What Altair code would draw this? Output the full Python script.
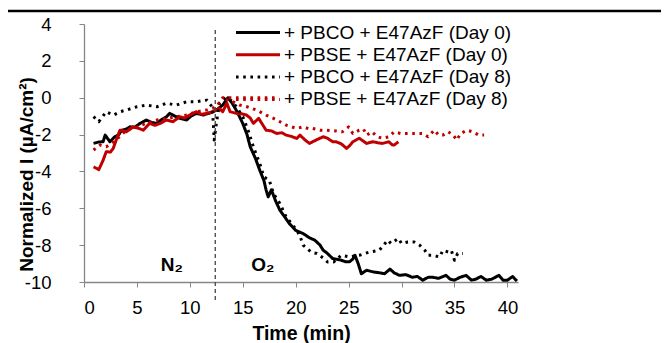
import altair as alt
import pandas as pd

series_names = ["+ PBCO + E47AzF (Day 0)", "+ PBSE + E47AzF (Day 0)",
                "+ PBCO + E47AzF (Day 8)", "+ PBSE + E47AzF (Day 8)"]
series_colors = ["#000000", "#C00000", "#000000", "#C00000"]
series_dashes = [[1, 0], [1, 0], [2.6, 4.6], [2.6, 4.6]]

x_ticks = [0, 5, 10, 15, 20, 25, 30, 35, 40]
y_ticks = [-10, -8, -6, -4, -2, 0, 2, 4]

gas_labels = ["N\u2082", "O\u2082"]
gas_label_t = [8.3, 16.9]
gas_label_v = [-9.1, -9.1]
switch_time = [12.4]

pbco_day0 = [(0.9, -2.48), (1.4, -2.4), (1.8, -2.39), (2.0, -2.03), (2.45, -2.39), (2.9, -2.12),
             (3.3, -2.0), (3.56, -1.76), (4.0, -1.7), (4.34, -1.58), (4.8, -1.6), (5.3, -1.39),
             (5.9, -1.21), (6.4, -1.35), (6.86, -1.39), (7.3, -1.2), (7.8, -1.03), (8.1, -0.85),
             (8.6, -1.0), (9.06, -1.12), (9.7, -1.21), (10.1, -1.0), (10.6, -0.85), (11.25, -0.94),
             (11.9, -0.83), (12.5, -0.67), (13.1, -0.4), (13.6, 0.0), (14.0, -0.3), (14.5, -0.8),
             (15.0, -1.4), (15.4, -2.0), (15.7, -2.66), (16.2, -3.3), (16.6, -3.93), (17.0, -4.5),
             (17.2, -5.0), (17.4, -5.38), (17.7, -5.0), (18.1, -5.6), (18.5, -6.1), (19.0, -6.5),
             (19.4, -6.83), (20.0, -7.2), (20.4, -7.3), (20.7, -7.37), (21.3, -7.6), (21.8, -7.73),
             (22.3, -8.0), (22.6, -8.28), (22.9, -8.4), (23.5, -8.73), (24.2, -8.8), (24.7, -8.9),
             (25.1, -8.9), (25.4, -8.75), (25.6, -8.55), (25.9, -9.0), (26.2, -9.55), (26.7, -9.36),
             (27.3, -9.45), (27.9, -9.5), (28.4, -9.55), (28.9, -9.3), (29.3, -9.5), (29.8, -9.64),
             (30.4, -9.6), (31.0, -9.74), (31.5, -9.7), (32.0, -9.9), (32.5, -9.75), (32.9, -9.74),
             (33.5, -9.8), (34.2, -9.64), (34.6, -9.85), (35.0, -9.9), (35.5, -9.75), (36.1, -9.64),
             (36.6, -9.9), (37.0, -9.85), (37.5, -9.7), (38.0, -9.9), (38.5, -9.85), (39.2, -9.64),
             (39.6, -9.9), (40.0, -9.9), (40.5, -9.7), (40.9, -9.95)]

pbse_day0 = [(0.9, -3.75), (1.4, -3.9), (1.8, -3.4), (2.1, -2.93), (2.5, -2.95), (2.76, -2.75),
             (3.1, -2.2), (3.4, -1.76), (4.0, -1.85), (4.65, -1.58), (5.1, -1.65), (5.6, -1.76),
             (6.2, -1.39), (6.7, -1.5), (7.2, -1.39), (7.8, -1.21), (8.4, -1.3), (9.06, -1.03),
             (9.5, -1.1), (10.0, -0.94), (10.6, -0.76), (11.1, -0.9), (11.6, -0.85), (12.2, -0.76),
             (12.8, -0.58), (13.1, -0.76), (13.5, -0.3), (13.8, -0.76), (14.4, -0.85), (14.7, -0.85),
             (15.35, -0.94), (15.7, -1.1), (16.0, -1.39), (16.5, -1.12), (17.2, -1.76), (17.7, -1.8),
             (18.2, -1.94), (18.7, -1.9), (19.1, -2.03), (19.6, -2.1), (20.1, -2.21), (20.4, -2.03),
             (20.9, -2.3), (21.3, -2.48), (21.6, -2.39), (22.1, -2.25), (22.6, -2.12), (23.0, -2.2),
             (23.5, -2.39), (23.8, -2.39), (24.3, -2.5), (24.8, -2.75), (25.1, -2.6), (25.4, -2.39),
             (26.0, -2.2), (26.7, -2.48), (27.3, -2.39), (27.8, -2.45), (28.2, -2.48), (28.8, -2.39),
             (29.1, -2.55), (29.3, -2.57), (29.7, -2.39)]

pbco_day8 = [(0.9, -1.03), (1.4, -1.3), (2.1, -0.76), (2.8, -0.94), (3.4, -0.76), (4.0, -0.67),
             (5.0, -0.49), (5.9, -0.4), (6.9, -0.49), (7.8, -0.3), (8.7, -0.4), (9.7, -0.22),
             (10.6, -0.22), (11.6, -0.13), (12.1, -0.49), (12.2, -1.21), (12.3, -2.3), (12.5, -1.4),
             (12.8, -0.3), (13.4, 0.0), (14.0, -0.2), (14.4, -0.49), (15.0, -1.03), (15.5, -1.76),
             (16.0, -2.66), (16.6, -3.57), (17.0, -4.3), (17.5, -4.47), (17.9, -5.2), (18.5, -5.74),
             (19.1, -6.47), (20.1, -7.19), (20.4, -7.5), (20.7, -8.0), (21.5, -8.4), (22.0, -8.45),
             (22.6, -8.7), (23.0, -8.91), (23.6, -8.91), (24.3, -8.55), (25.1, -8.64), (26.0, -8.55),
             (27.0, -8.37), (27.9, -8.28), (28.3, -8.0), (28.7, -7.73), (29.0, -7.91), (29.7, -7.64),
             (30.0, -7.91), (30.6, -7.83), (31.2, -7.83), (31.7, -8.0), (32.2, -8.28), (32.5, -8.55),
             (32.9, -8.55), (33.6, -8.64), (33.9, -8.28), (34.4, -8.37), (34.7, -8.28), (34.9, -8.64),
             (35.0, -8.82), (35.3, -8.45), (35.8, -8.45)]

pbse_day8_a = [(0.9, -2.84), (1.5, -2.57), (2.1, -2.66), (2.8, -2.39), (3.4, -2.1), (4.0, -1.76),
               (5.0, -1.58), (5.9, -1.39), (6.9, -1.21), (7.8, -1.12), (8.7, -1.03), (9.7, -0.94),
               (10.6, -0.76), (11.6, -0.67), (12.5, -0.49), (13.1, 0.0), (18.3, 0.0)]
pbse_day8_b = [(13.4, -0.1), (14.0, -0.2), (14.7, -0.4), (15.4, -0.49), (16.3, -0.67), (17.2, -0.94),
               (17.9, -1.12), (18.5, -1.3), (19.1, -1.49), (20.1, -1.67), (20.7, -1.58), (21.3, -1.7),
               (21.6, -1.67), (22.3, -1.76), (22.9, -1.76), (23.8, -1.8), (24.4, -1.85), (25.0, -1.58),
               (25.4, -1.94), (26.0, -1.76), (26.4, -1.7), (26.7, -2.03), (27.2, -1.85), (27.7, -2.12),
               (28.2, -2.2), (28.8, -2.12), (29.3, -1.85), (29.9, -1.94), (30.4, -1.94), (31.2, -1.94),
               (32.0, -1.94), (32.5, -2.12), (33.1, -1.76), (33.5, -2.03), (33.9, -2.03), (34.4, -1.85),
               (34.9, -2.03), (35.2, -2.3), (35.6, -1.94), (36.2, -1.76), (36.7, -1.85), (37.3, -2.03),
               (37.8, -2.03)]

groups = [(series_names[0], [pbco_day0]), (series_names[1], [pbse_day0]),
          (series_names[2], [pbco_day8]), (series_names[3], [pbse_day8_a, pbse_day8_b])]
rows = []
for name, segs in groups:
    for s, seg in enumerate(segs):
        for i, (t, v) in enumerate(seg):
            rows.append({"series": name, "seg": f"{name}|{s}", "i": i, "t": t, "v": v})
df = pd.DataFrame(rows)

FONT = "Liberation Sans"

# long horizontal stroke drawn with a small nominal symbol size so rows stay tight
legend = alt.Legend(title=None, orient="none", legendX=164.5, legendY=-1,
                    symbolType="M-4,0L4,0", symbolSize=121, symbolStrokeWidth=3,
                    labelFontSize=19, labelFont=FONT, labelColor="black",
                    rowPadding=2.3, labelOffset=16.5, padding=0, labelLimit=400)

x_axis = alt.Axis(values=x_ticks, title="Time (min)", titleY=42, titleBaseline="top",
                  titleFontSize=19.5, labelPadding=11, labelOverlap=False)
y_axis = alt.Axis(values=y_ticks, title="Normalized I (\u00b5A/cm\u00b2)", labelPadding=28,
                  labelOverlap=False, labelExpr="datum.value + ''",
                  titleX=-58, titleY=150, titleBaseline="middle", titleFontSize=19)
x_scale = alt.Scale(domain=[0, 41], nice=False, zero=False)
y_scale = alt.Scale(domain=[-10, 4], nice=False)

lines = alt.Chart(df).mark_line(strokeWidth=3, strokeJoin="round").encode(
    x=alt.X("t:Q", scale=x_scale, axis=x_axis),
    y=alt.Y("v:Q", scale=y_scale, axis=y_axis),
    color=alt.Color("series:N", scale=alt.Scale(domain=series_names, range=series_colors),
                    legend=legend),
    strokeDash=alt.StrokeDash("series:N", scale=alt.Scale(domain=series_names, range=series_dashes),
                              legend=legend),
    detail="seg:N",
    order="i:Q",
)

switch = alt.Chart(pd.DataFrame({"t": switch_time})).mark_rule(
    color="#444444", strokeDash=[4, 3], strokeWidth=1.3).encode(
    x=alt.X("t:Q", scale=x_scale, axis=x_axis), y=alt.value(6), y2=alt.value(276))

gas = alt.Chart(pd.DataFrame({"label": gas_labels, "t": gas_label_t, "v": gas_label_v})).mark_text(
    font=FONT, fontSize=19, fontWeight="bold", color="black").encode(
    x=alt.X("t:Q", scale=x_scale, axis=x_axis),
    y=alt.Y("v:Q", scale=y_scale, axis=y_axis), text="label:N")

top_rule = alt.Chart(pd.DataFrame({"a": [0]})).mark_rule(color="black", strokeWidth=2.5).encode(
    x=alt.value(-80), x2=alt.value(600), y=alt.value(-13))

chart = alt.layer(lines, switch, gas, top_rule).properties(
    width=434, height=258,
    autosize=alt.AutoSizeParams(type="none"),
    padding={"left": 76, "top": 16, "right": 143, "bottom": 66},
).configure_view(stroke=None).configure_axis(
    grid=False, domainColor="#868686", tickColor="#868686", tickSize=5, domainWidth=1.3,
    labelFont=FONT, labelFontSize=18.5, labelColor="black", labelOverlap=False,
    titleFont=FONT, titleFontSize=19.5, titleFontWeight="bold", titleColor="black",
)

chart.save("out.html", embed_options={"renderer": "svg", "actions": False})
